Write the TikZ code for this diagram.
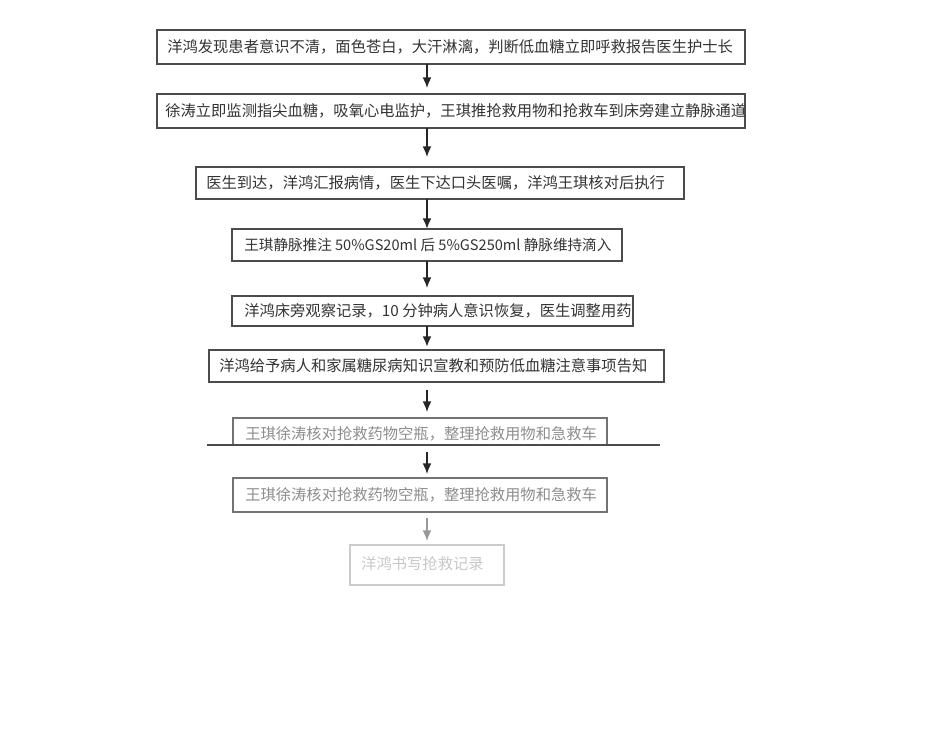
\documentclass[tikz,border=0pt]{standalone}
\usepackage{fontspec}
\setmainfont{Noto Sans CJK SC}
\usetikzlibrary{arrows.meta}
\begin{document}
\begin{tikzpicture}[x=0.02cm,y=-0.02cm,
  bx/.style={draw=black!70,line width=0.8pt},
  tx/.style={font=\fontsize{8.7pt}{11pt}\selectfont,text=black!80,anchor=west,inner sep=0},
  ar/.style={-{Latex[length=6pt,width=5pt]},line width=0.8pt,black!85}]
\useasboundingbox (0,0) rectangle (950,735);
\draw[bx] (157,30) rectangle (745,64);
\node[tx] (a) at (167,47) {洋鸿发现患者意识不清，面色苍白，大汗淋漓，判断低血糖立即呼救报告医生护士长};
\draw[bx] (157,94) rectangle (745,128);
\node[tx] (b) at (165,111) {徐涛立即监测指尖血糖，吸氧心电监护，王琪推抢救用物和抢救车到床旁建立静脉通道};
\draw[bx] (196,167) rectangle (684,199);
\node[tx] (c) at (206,183) {医生到达，洋鸿汇报病情，医生下达口头医嘱，洋鸿王琪核对后执行};
\draw[bx] (232,229) rectangle (622,261);
\node[tx,font=\fontsize{8.3pt}{11pt}\selectfont] (d) at (244,245) {王琪静脉推注 50\%GS20ml 后 5\%GS250ml 静脉维持滴入};
\draw[bx] (232,296) rectangle (633,326);
\node[tx] (e) at (244,311) {洋鸿床旁观察记录，10 分钟病人意识恢复，医生调整用药};
\draw[bx] (209,350) rectangle (664,382);
\node[tx] (f) at (219,366) {洋鸿给予病人和家属糖尿病知识宣教和预防低血糖注意事项告知};
\draw[bx,black!55] (233,445) -- (233,418) -- (607,418) -- (607,445);
\draw[bx,black!70] (207,445) -- (660,445);
\node[tx,text=black!45] (g) at (245,434) {王琪徐涛核对抢救药物空瓶，整理抢救用物和急救车};
\draw[bx,black!55] (233,478) rectangle (607,512);
\node[tx,text=black!45] (h) at (245,495) {王琪徐涛核对抢救药物空瓶，整理抢救用物和急救车};
\draw[bx,black!20] (350,545) rectangle (504,585);
\node[tx,text=black!22] (i) at (361,564) {洋鸿书写抢救记录};
\coordinate (a1) at (427,64); \coordinate (b0) at (427,88);
\coordinate (b1) at (427,128); \coordinate (c0) at (427,157);
\coordinate (c1) at (427,199); \coordinate (d0) at (427,229);
\coordinate (d1) at (427,261); \coordinate (e0) at (427,288);
\coordinate (e1) at (427,326); \coordinate (f0) at (427,347);
\coordinate (f1) at (427,390); \coordinate (g0) at (427,412);
\coordinate (g1) at (427,452); \coordinate (h0) at (427,474);
\coordinate (h1) at (427,518); \coordinate (i0) at (427,541);
\draw[ar] (a1) -- (b0);
\draw[ar] (b1) -- (c0);
\draw[ar,line width=1.2pt] (c1) -- (d0);
\draw[ar] (d1) -- (e0);
\draw[ar,line width=1.2pt] (e1) -- (f0);
\draw[ar] (f1) -- (g0);
\draw[ar] (g1) -- (h0);
\draw[ar,black!40] (h1) -- (i0);
\end{tikzpicture}
\end{document}
